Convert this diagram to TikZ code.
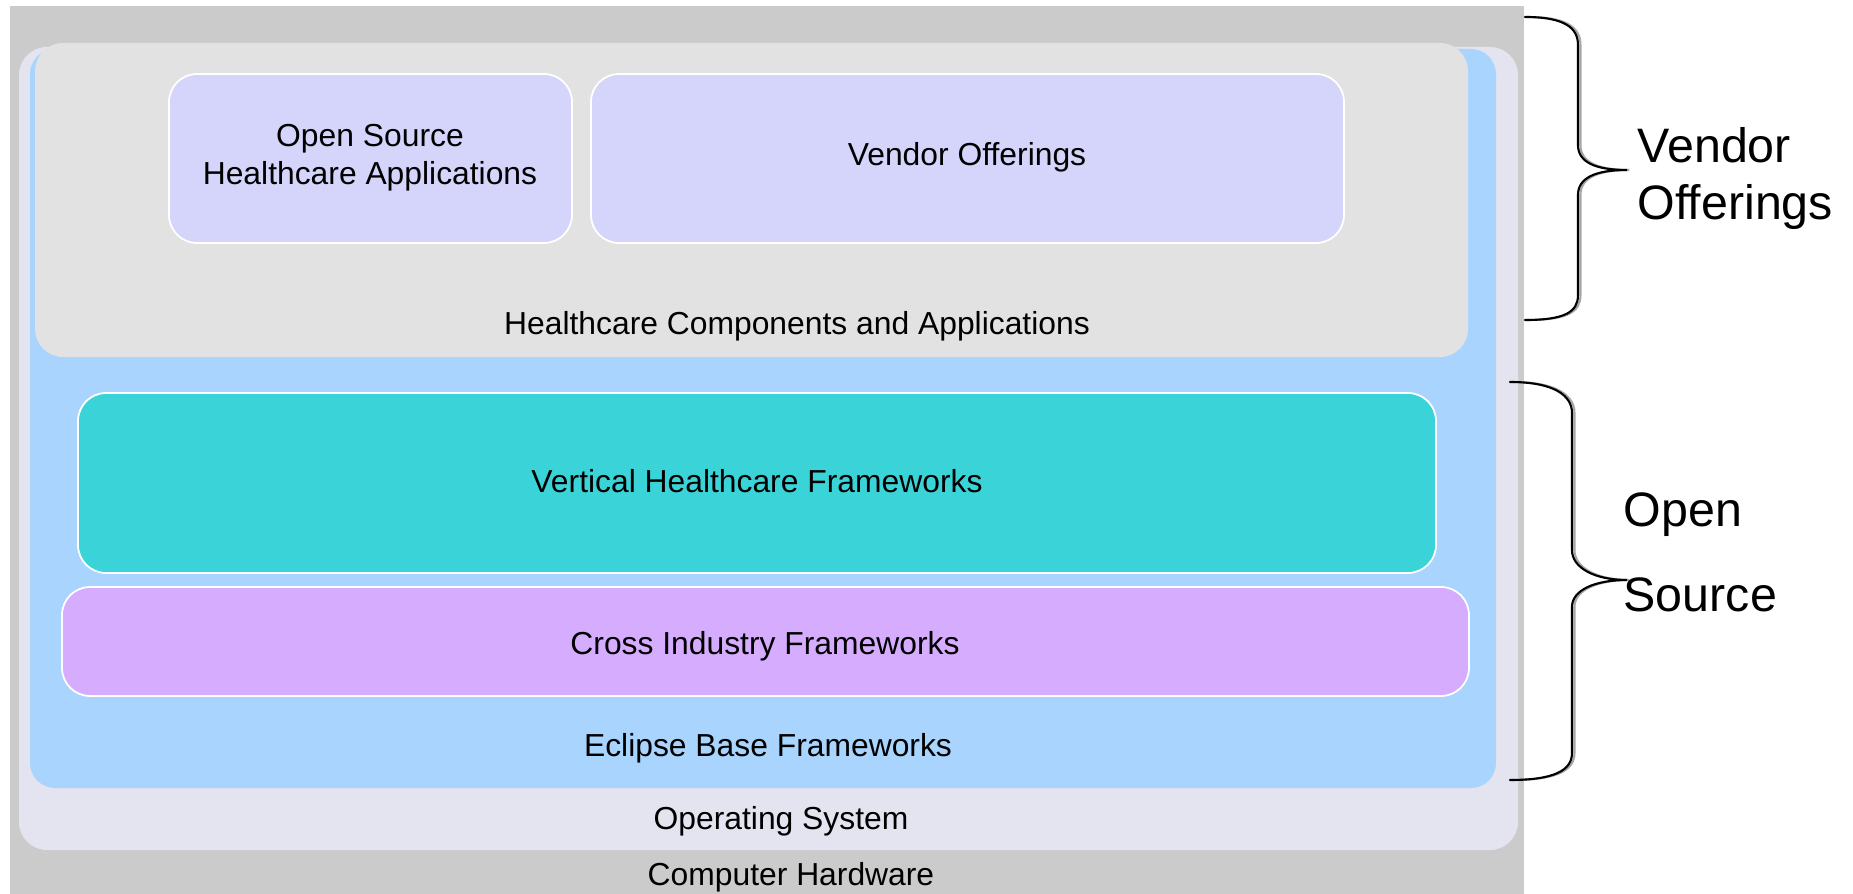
\documentclass[tikz,border=0pt]{standalone}
\usepackage{fontspec}
\setmainfont{Liberation Sans}
\definecolor{hwgray}{HTML}{CBCBCB}
\definecolor{osgray}{HTML}{E4E4F0}
\definecolor{eclblue}{HTML}{A8D4FE}
\definecolor{compgray}{HTML}{E2E2E2}
\definecolor{appblue}{HTML}{D5D5FC}
\definecolor{vertteal}{HTML}{3AD4D8}
\definecolor{crossviolet}{HTML}{D6ACFE}

\begin{document}
\begin{tikzpicture}[x=0.01cm,y=-0.01cm,
  lbl/.style={font=\fontsize{9.05}{10.8}\selectfont,anchor=base,inner sep=0pt},
  side/.style={font=\fontsize{13.75}{16.2}\selectfont,anchor=base west,inner sep=0pt},
  layer/.style={draw=white,line width=0.5pt,rounded corners=0.28cm},
  brace/.style={line width=0.6pt,line cap=round}]
\useasboundingbox[fill=white] (0,0) rectangle (1853,894);
% stacked layers
\fill[hwgray] (10,6) rectangle (1524,894);
\fill[osgray,rounded corners=0.28cm] (19,47) rectangle (1518,850);
\fill[eclblue,rounded corners=0.25cm] (30,49) rectangle (1496,788);
\fill[compgray,rounded corners=0.28cm] (35,43) rectangle (1468,357);
\filldraw[layer,fill=appblue] (169,74) rectangle (572,243);
\filldraw[layer,fill=appblue] (591,74) rectangle (1344,243);
\filldraw[layer,fill=vertteal] (78,393) rectangle (1436,573);
\filldraw[layer,fill=crossviolet] (62,587) rectangle (1469,696);
% labels
\node[lbl,anchor=center,align=center] (osapps) at (370,158) {Open Source\\Healthcare Applications};
\node[lbl] (vendor) at (967,166) {Vendor Offerings};
\node[lbl] (comp) at (797,335) {Healthcare Components and Applications};
\node[lbl] (vert) at (757,492) {Vertical Healthcare Frameworks};
\node[lbl] (cross) at (765,654) {Cross Industry Frameworks};
\node[lbl] (eclipse) at (768,757) {Eclipse Base Frameworks};
\node[lbl] (os) at (781,829) {Operating System};
\node[lbl] (hw) at (791,885) {Computer Hardware};
% braces
\foreach \dx/\clr in {0.7pt/gray!70,0pt/black}{
 \draw[brace,\clr,xshift=\dx] (1525,17) .. controls (1565,17) and (1578,28) .. (1578,45) -- (1578,145)
   .. controls (1578,162) and (1595,170) .. (1627,170) .. controls (1595,170) and (1578,178) .. (1578,195)
   -- (1578,295) .. controls (1578,312) and (1565,320) .. (1525,320);
 \draw[brace,\clr,xshift=\dx] (1510,382) .. controls (1555,382) and (1572,396) .. (1572,413) -- (1572,550)
   .. controls (1572,568) and (1595,580) .. (1627,580) .. controls (1595,580) and (1572,590) .. (1572,607)
   -- (1572,753) .. controls (1572,770) and (1555,780) .. (1510,780);
}
\node[side] (sidevendor) at (1637,163) {Vendor};
\node[side] (sideoffer) at (1637,220) {Offerings};
\node[side] (sideopen) at (1623,527) {Open};
\node[side] (sidesource) at (1623,612) {Source};
\end{tikzpicture}
\end{document}
